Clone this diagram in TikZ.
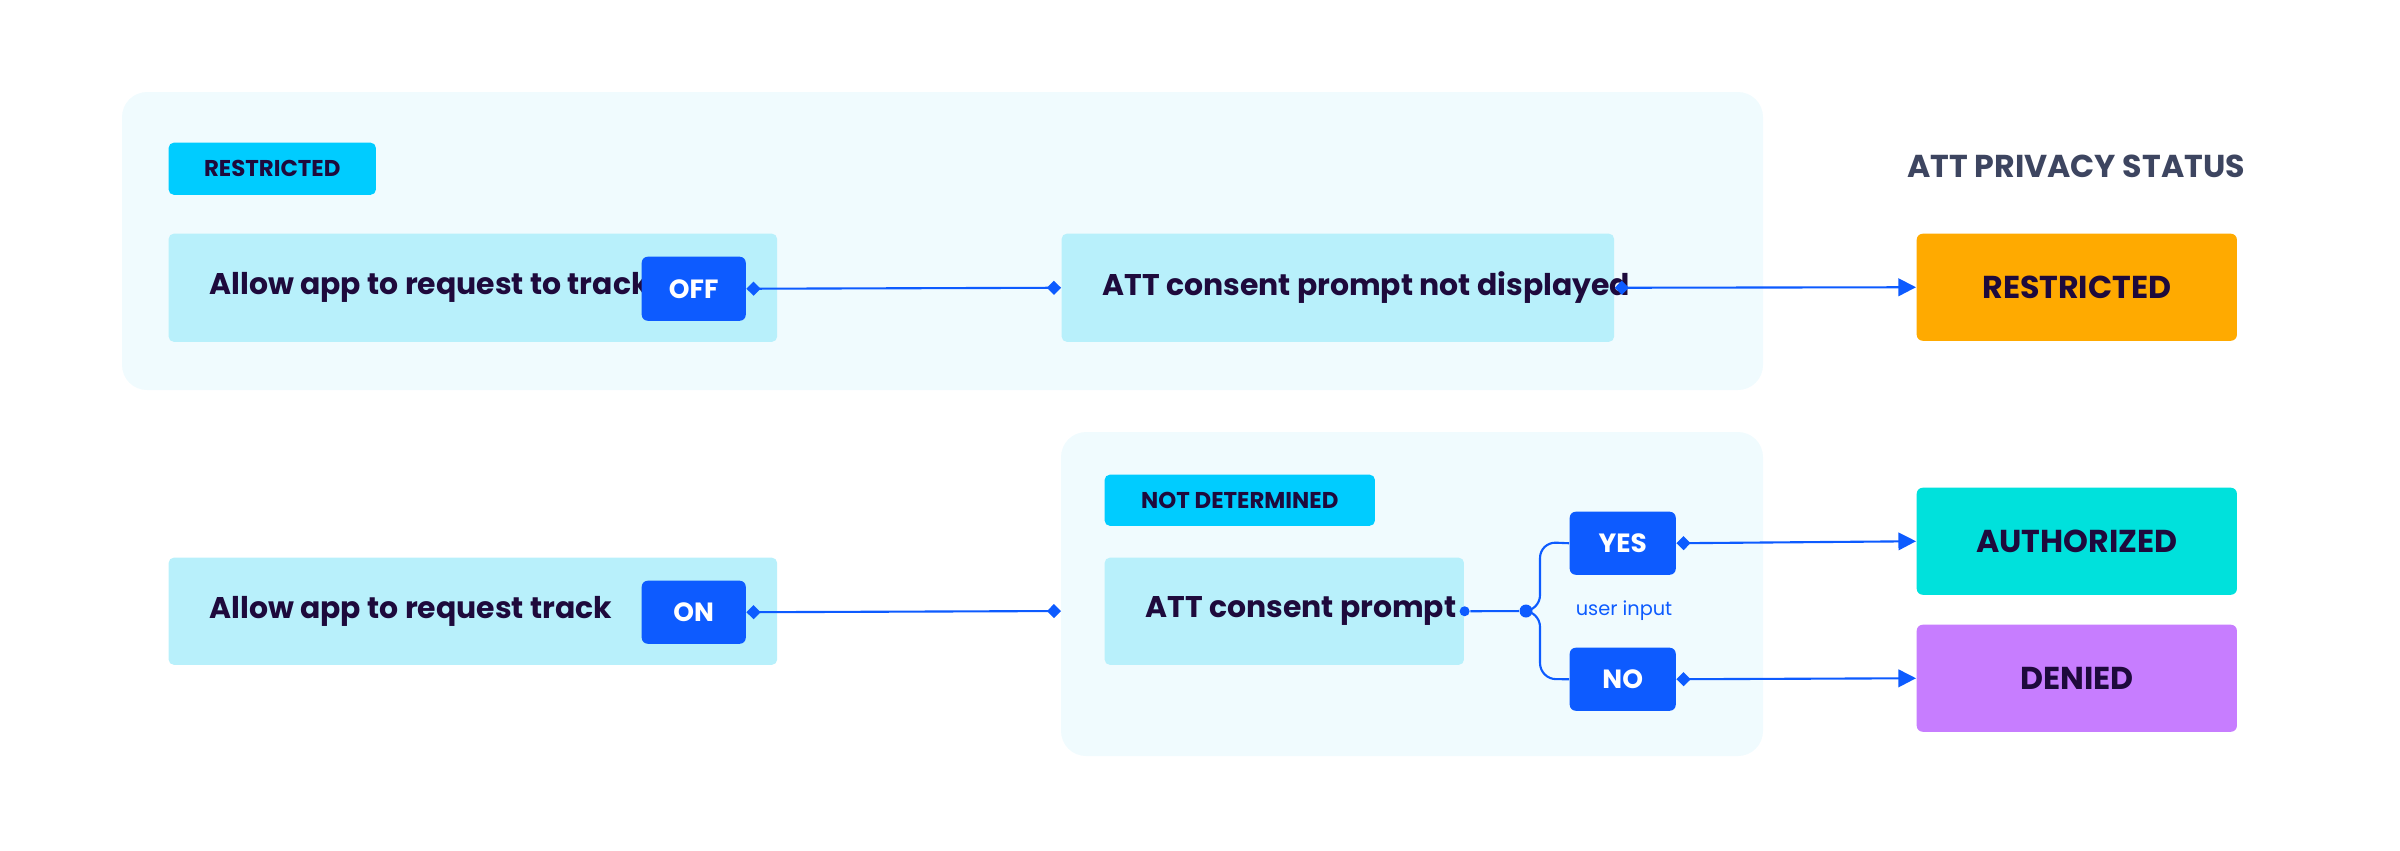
\documentclass[tikz,border=0pt]{standalone}
\usepackage{fontspec}
\setmainfont{Poppins}
\usetikzlibrary{positioning, arrows.meta}
\definecolor{panelbg}{HTML}{F0FBFE}
\definecolor{boxbg}{HTML}{B8F0FB}
\definecolor{tagbg}{HTML}{00CCFF}
\definecolor{btnblue}{HTML}{0D5BFF}
\definecolor{txtdark}{HTML}{1E0A3C}
\definecolor{titlegray}{HTML}{3D4560}
\definecolor{stRestricted}{HTML}{FFAA00}
\definecolor{stAuthorized}{HTML}{00E1DC}
\definecolor{stDenied}{HTML}{C77DFF}
\tikzset{
    panel/.style={fill=panelbg, rounded corners=0.25cm, draw=none},
    tag/.style={fill=tagbg, rounded corners=0.05cm, text=txtdark, font=\fontsize{6.5}{8}\selectfont\bfseries, anchor=north west, inner sep=0pt},
    box/.style={fill=boxbg, rounded corners=0.05cm, anchor=north west, inner sep=0pt},
    lbl/.style={text=txtdark, font=\fontsize{8.5}{10}\selectfont\bfseries, anchor=west},
    btn/.style={fill=btnblue, rounded corners=0.06cm, text=white, font=\fontsize{7.5}{9}\selectfont\bfseries, anchor=north west, inner sep=0pt},
    status/.style={rounded corners=0.06cm, text=txtdark, font=\fontsize{9}{11}\selectfont\bfseries, anchor=north west, inner sep=0pt, minimum width=3.2cm, minimum height=1.07cm},
    link/.style={draw=btnblue, line width=0.6pt},
    dot/.style={circle, fill=btnblue, inner sep=0pt, minimum size=0.1cm}
}
\begin{document}
\begin{tikzpicture}[x=0.01cm, y=-0.01cm]
    \useasboundingbox (0,0) rectangle (2400,850);
    % panels
    \fill[panel] (122,92) rectangle (1763,390);
    \fill[panel] (1061,432) rectangle (1763,756);
    \node[tag, minimum width=2.07cm, minimum height=0.52cm] (tagR) at (168,142) {RESTRICTED};
    \node[tag, minimum width=2.7cm, minimum height=0.51cm] (tagN) at (1104,474) {NOT DETERMINED};
    % first row
    \node[box, minimum width=6.08cm, minimum height=1.08cm] (allow1) at (168,233) {};
    \node[lbl] at (197,287) {Allow app to request to track};
    \node[btn, minimum width=1.04cm, minimum height=0.64cm] (off) at (641,256) {OFF};
    \node[box, minimum width=5.52cm, minimum height=1.08cm] (notdisp) at (1061,233) {};
    \node[lbl] at (1090,287) {ATT consent prompt not displayed};
    % second row
    \node[box, minimum width=6.08cm, minimum height=1.07cm] (allow2) at (168,557) {};
    \node[lbl] at (197,611) {Allow app to request track};
    \node[btn, minimum width=1.04cm, minimum height=0.63cm] (on) at (641,580) {ON};
    \node[box, minimum width=3.59cm, minimum height=1.07cm] (prompt) at (1104,557) {};
    \node[lbl] at (1133,611) {ATT consent prompt};
    \node[btn, minimum width=1.06cm, minimum height=0.63cm] (yes) at (1569,511) {YES};
    \node[btn, minimum width=1.06cm, minimum height=0.63cm] (no) at (1569,647) {NO};
    \node[text=btnblue, font=\fontsize{5.5}{7}\selectfont] (uinput) at (1624,611) {user input};
    % status column
    \node[text=titlegray, font=\fontsize{9}{11}\selectfont\bfseries] (title) at (2076,166) {ATT PRIVACY STATUS};
    \node[status, fill=stRestricted] (sRestr) at (1916,233) {RESTRICTED};
    \node[status, fill=stAuthorized] (sAuth) at (1916,487) {AUTHORIZED};
    \node[status, fill=stDenied] (sDen) at (1916,624) {DENIED};
    % connectors
    \draw[link, {Diamond[length=4pt,width=4pt]}-{Diamond[length=4pt,width=4pt]}] (off.east) -- (notdisp.west);
    \draw[link, {Diamond[length=4pt,width=4pt]}-{Triangle[length=5pt,width=5pt]}] (notdisp.east) -- (sRestr.west);
    \draw[link, {Diamond[length=4pt,width=4pt]}-{Diamond[length=4pt,width=4pt]}] (on.east) -- (1061,611);
    \node[dot] (pdot) at (prompt.east) {};
    \node[dot, minimum size=0.13cm] (junc) at (1526,611) {};
    \draw[link] (pdot) -- (junc);
    \draw[link, rounded corners=0.16cm] (junc.center) -| (1540,542) -- (yes.west);
    \draw[link, rounded corners=0.16cm] (junc.center) -| (1540,679) -- (no.west);
    \draw[link, {Diamond[length=4pt,width=4pt]}-{Triangle[length=5pt,width=5pt]}] (yes.east) -- (sAuth.west);
    \draw[link, {Diamond[length=4pt,width=4pt]}-{Triangle[length=5pt,width=5pt]}] (no.east) -- (sDen.west);
\end{tikzpicture}
\end{document}
